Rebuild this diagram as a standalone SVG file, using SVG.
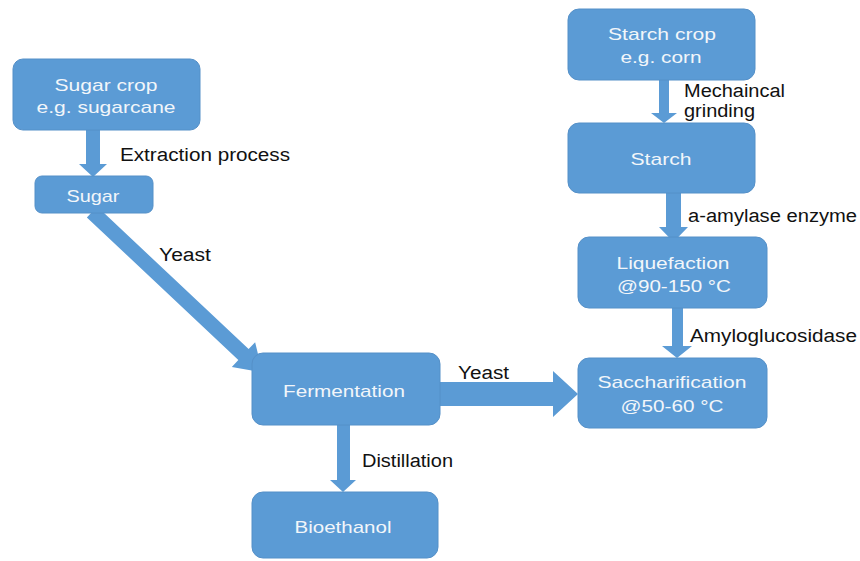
<svg xmlns="http://www.w3.org/2000/svg" width="860" height="561" viewBox="0 0 860 561">
<style>
.box{fill:#5B9BD5;stroke:#5590C8;stroke-width:1}
.arr{fill:#5B9BD5}
.wt{font-family:"Liberation Sans",Arial,sans-serif;font-size:17px;fill:#F2F6FA;text-anchor:middle}
.bt{font-family:"Liberation Sans",Arial,sans-serif;font-size:18px;fill:#111111}
</style>
<rect width="860" height="561" fill="#FFFFFF"/>
<g id="connectors">
<polygon class="arr" points="86,130 100,130 100,164 107,164 93,177 79,164 86,164"/>
<polygon class="arr" transform="translate(92,212) rotate(43.26)" points="0,-7.5 208,-7.5 208,-17 234,0 208,17 208,7.5 0,7.5"/>
<polygon class="arr" points="337,425 350,425 350,480 356,480 343,492 330,480 337,480"/>
<polygon class="arr" points="440,382 553,382 553,371 578,394 553,417 553,406 440,406"/>
<polygon class="arr" points="659,80 669,80 669,113 677,113 664,123 651,113 659,113"/>
<polygon class="arr" points="666,193 681,193 681,227 688,227 673.5,242 659,227 666,227"/>
<polygon class="arr" points="672,308 683,308 683,346 692,346 677,358 662,346 672,346"/>
<text class="bt" x="120" y="161" textLength="170" lengthAdjust="spacingAndGlyphs">Extraction process</text>
<text class="bt" x="159" y="261" textLength="52" lengthAdjust="spacingAndGlyphs">Yeast</text>
<text class="bt" x="458" y="379" textLength="51" lengthAdjust="spacingAndGlyphs">Yeast</text>
<text class="bt" x="362" y="467" textLength="91" lengthAdjust="spacingAndGlyphs">Distillation</text>
<text class="bt" x="684" y="97" textLength="101" lengthAdjust="spacingAndGlyphs">Mechaincal</text>
<text class="bt" x="684" y="117" textLength="71" lengthAdjust="spacingAndGlyphs">grinding</text>
<text class="bt" x="688" y="222" textLength="169" lengthAdjust="spacingAndGlyphs">a-amylase enzyme</text>
<text class="bt" x="690" y="342" textLength="167" lengthAdjust="spacingAndGlyphs">Amyloglucosidase</text>
</g>
<g id="sugarcrop">
<rect class="box" x="13" y="59" width="187" height="71" rx="10"/>
<text class="wt" x="106" y="91" textLength="103" lengthAdjust="spacingAndGlyphs">Sugar crop</text>
<text class="wt" x="106" y="113" textLength="139" lengthAdjust="spacingAndGlyphs">e.g. sugarcane</text>
</g>
<g id="sugar">
<rect class="box" x="35" y="176" width="118" height="37" rx="7"/>
<text class="wt" x="93" y="202" textLength="53" lengthAdjust="spacingAndGlyphs">Sugar</text>
</g>
<g id="fermentation">
<rect class="box" x="252" y="353" width="188" height="72" rx="11"/>
<text class="wt" x="344" y="397" textLength="122" lengthAdjust="spacingAndGlyphs">Fermentation</text>
</g>
<g id="bioethanol">
<rect class="box" x="252" y="492" width="186" height="66" rx="11"/>
<text class="wt" x="343" y="533" textLength="97" lengthAdjust="spacingAndGlyphs">Bioethanol</text>
</g>
<g id="starchcrop">
<rect class="box" x="568" y="9" width="187" height="71" rx="11"/>
<text class="wt" x="662" y="40" textLength="108" lengthAdjust="spacingAndGlyphs">Starch crop</text>
<text class="wt" x="661" y="63" textLength="81" lengthAdjust="spacingAndGlyphs">e.g. corn</text>
</g>
<g id="starch">
<rect class="box" x="568" y="123" width="187" height="70" rx="11"/>
<text class="wt" x="661" y="165" textLength="61" lengthAdjust="spacingAndGlyphs">Starch</text>
</g>
<g id="liquefaction">
<rect class="box" x="578" y="237" width="189" height="71" rx="11"/>
<text class="wt" x="673" y="269" textLength="113" lengthAdjust="spacingAndGlyphs">Liquefaction</text>
<text class="wt" x="674" y="292" textLength="114" lengthAdjust="spacingAndGlyphs">@90-150 °C</text>
</g>
<g id="saccharification">
<rect class="box" x="578" y="358" width="189" height="70" rx="11"/>
<text class="wt" x="672" y="388" textLength="149" lengthAdjust="spacingAndGlyphs">Saccharification</text>
<text class="wt" x="672" y="412" textLength="103" lengthAdjust="spacingAndGlyphs">@50-60 °C</text>
</g>
</svg>
